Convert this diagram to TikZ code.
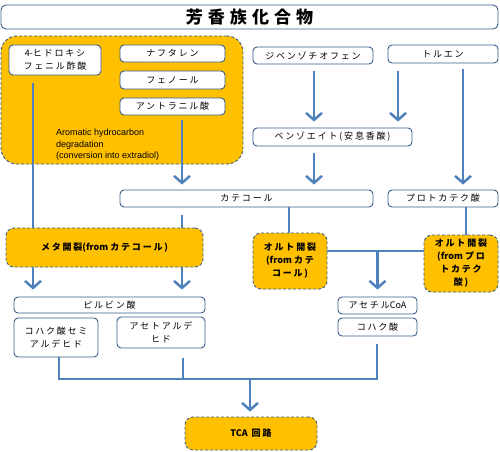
\documentclass[tikz,border=0pt]{standalone}
\usepackage{fontspec}
\usetikzlibrary{arrows.meta,calc}
\setmainfont{Liberation Sans}
\newfontfamily\jp[LetterSpace=20]{Noto Sans CJK JP}
\newfontfamily\jplat{Noto Sans CJK JP}
\newfontfamily\jptitle[LetterSpace=30]{Noto Sans CJK JP}
\newcommand{\lt}[1]{{\jplat #1}}
\definecolor{bord}{RGB}{56,93,138}
\definecolor{conn}{RGB}{79,129,189}
\definecolor{orng}{RGB}{255,192,0}
\begin{document}
\begin{tikzpicture}[x=1pt,y=-1pt,
 wbox/.style={draw=bord, line width=0.9pt, fill=white, rounded corners=4pt, inner sep=0pt, align=center, font=\jp\fontsize{9}{13}\selectfont},
 obox/.style={draw=bord, line width=0.9pt, dash pattern=on 3pt off 2pt, fill=orng, rounded corners=8pt, inner sep=0pt, align=center, font=\jp\bfseries\fontsize{9}{13}\selectfont},
 line/.style={draw=conn, line width=2.5pt},
 arr/.style={line, -{Straight Barb[length=7pt,width=16pt,line width=2.5pt]}},
]
\useasboundingbox (0,0) rectangle (500,451);
% title
\node[wbox, rounded corners=5pt, minimum width=497pt, minimum height=24pt, font=\jptitle\bfseries\fontsize{17}{20}\selectfont] (title) at (249.5,17) {芳香族化合物};
% big orange region
\node[obox, rounded corners=16pt, minimum width=242pt, minimum height=128pt] (region) at (122,100) {};
\node[anchor=west, align=left, font=\fontsize{9}{11.5}\selectfont, inner sep=0pt] (regtext) at (56,145) {Aromatic hydrocarbon\\degradation\\(conversion into extradiol)};
\node[wbox, minimum width=92pt, minimum height=30pt] (hydroxy) at (55,60) {\lt{4-}ヒドロキシ\\フェニル酢酸};
\node[wbox, minimum width=105pt, minimum height=17pt] (naph) at (172.5,53.5) {ナフタレン};
\node[wbox, minimum width=105pt, minimum height=18pt] (phenol) at (172.5,80) {フェノール};
\node[wbox, minimum width=105pt, minimum height=17pt] (anthr) at (172.5,106.5) {アントラニル酸};
% right top
\node[wbox, minimum width=120pt, minimum height=17pt] (dbt) at (313,55.5) {ジベンゾチオフェン};
\node[wbox, minimum width=110pt, minimum height=18pt] (toluene) at (443,54) {トルエン};
\node[wbox, minimum width=159pt, minimum height=18pt] (benzoate) at (332.5,137) {ベンゾエイト(安息香酸)};
\node[wbox, minimum width=253pt, minimum height=17pt] (catechol) at (246.5,198.5) {カテコール};
\node[wbox, minimum width=110pt, minimum height=17pt] (proto) at (443,198.5) {プロトカテク酸};
% cleavage
\node[obox, minimum width=197pt, minimum height=39pt] (meta) at (104.5,247.5) {メタ開裂\lt{(from }カテコール)};
\node[obox, minimum width=74pt, minimum height=56pt] (ortho1) at (290,261) {オルト開裂\\\lt{(from }カテ\\コール)};
\node[obox, minimum width=74pt, minimum height=57pt] (ortho2) at (461,263.5) {オルト開裂\\\lt{(from }プロ\\トカテク\\酸)};
% products
\node[wbox, minimum width=191pt, minimum height=16pt] (pyruvic) at (109.5,305) {ピルビン酸};
\node[wbox, minimum width=84pt, minimum height=39pt] (succsemi) at (56,337.5) {コハク酸セミ\\アルデヒド};
\node[wbox, minimum width=88pt, minimum height=31pt] (acetald) at (161,332.5) {アセトアルデ\\ヒド};
\node[wbox, minimum width=79pt, minimum height=17pt] (acoa) at (377.5,305.5) {アセチル\lt{CoA}};
\node[wbox, minimum width=79pt, minimum height=18pt] (succ) at (377.5,327) {コハク酸};
\node[obox, minimum width=132pt, minimum height=33pt] (tca) at (251,433.5) {\lt{TCA} 回路};
% connectors
\draw[line] ($(hydroxy.south)+(-22,8)$) coordinate (h1) -- (h1 |- meta.north);
\draw[arr, shorten >=5pt] ($(anthr.south)+(9.5,5)$) coordinate (a1) -- (a1 |- catechol.north);
\draw[arr, shorten >=6pt] ($(dbt.south)+(1,7)$) coordinate (d1) -- (d1 |- benzoate.north);
\draw[arr, shorten >=6pt] ($(toluene.south)+(-45,8)$) coordinate (t1) -- (t1 |- benzoate.north);
\draw[arr, shorten >=5pt] ($(toluene.south)+(20,6)$) coordinate (t2) -- (t2 |- proto.north);
\draw[arr, shorten >=5pt] ($(benzoate.south)+(-18.5,7)$) coordinate (z1) -- (z1 |- catechol.north);
\draw[line] ($(catechol.south)+(-64.5,8)$) coordinate (c1) -- (c1 |- meta.north);
\draw[line] ($(catechol.south)+(42.5,0)$) coordinate (c2) -- (c2 |- ortho1.north);
\draw[line] ($(proto.south)+(23,0)$) coordinate (p1) -- (p1 |- ortho2.north);
\draw[line] ($(ortho1.east)+(0,-10)$) coordinate (o1) -- (o1 -| ortho2.west);
\draw[arr, shorten >=7pt] (o1 -| acoa.north) -- (acoa.north);
\draw[arr, shorten >=7pt] ($(meta.south)+(-71.5,0)$) coordinate (m1) -- (m1 |- pyruvic.north);
\draw[arr, shorten >=7pt] ($(meta.south)+(77.5,0)$) coordinate (m2) -- (m2 |- pyruvic.north);
\coordinate (bus) at (250,379);
\draw[line] ($(succsemi.south)+(3,0)$) coordinate (b1) -- (b1 |- bus) -| ($(succ.south)+(-0.5,8)$);
\draw[line] ($(acetald.south)+(22,10)$) coordinate (b2) -- (b2 |- bus);
\draw[arr, shorten >=5pt] (bus) -- (bus |- tca.north);
\end{tikzpicture}
\end{document}
